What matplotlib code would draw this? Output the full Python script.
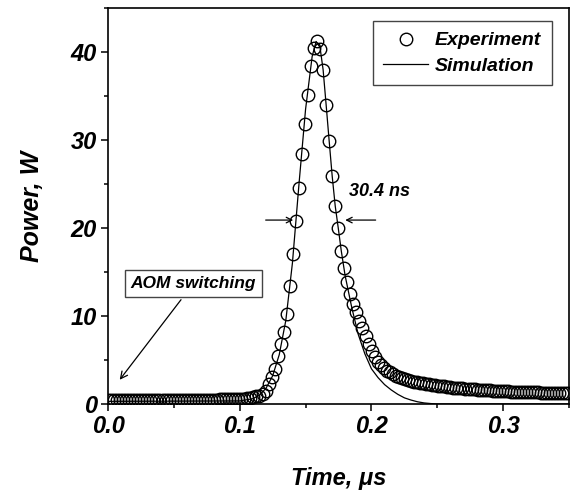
import numpy as np
import matplotlib
matplotlib.use("Agg")
import matplotlib.pyplot as plt
from matplotlib.ticker import MultipleLocator

plt.rcParams['font.family'] = ['Liberation Sans', 'DejaVu Sans']
plt.rcParams['font.weight'] = 'bold'
plt.rcParams['font.style'] = 'italic'

# experiment: sampled every 2.3 ns
dt_exp = 0.0023
p_exp = [0.5, 0.5, 0.5, 0.5, 0.5, 0.5, 0.5, 0.5, 0.5, 0.5,
         0.5, 0.5, 0.5, 0.5, 0.5, 0.5, 0.5, 0.5, 0.5, 0.5,
         0.5, 0.5, 0.5, 0.5, 0.5, 0.5, 0.5, 0.5, 0.5, 0.5,
         0.5, 0.5, 0.5, 0.5, 0.5, 0.5, 0.5, 0.55, 0.55, 0.55,
         0.55, 0.55, 0.6, 0.6, 0.6, 0.6, 0.7, 0.7, 0.8, 0.9,
         0.9, 1.1, 1.5, 2.3, 3.1, 4.0, 5.4, 6.8, 8.2, 10.2,
         13.4, 17.0, 20.8, 24.6, 28.4, 31.8, 35.1, 38.4, 40.4, 41.2,
         40.3, 38.0, 34.0, 29.9, 25.9, 22.5, 20.0, 17.4, 15.4, 13.9,
         12.5, 11.4, 10.4, 9.4, 8.6, 7.7, 6.8, 6.0, 5.3, 4.8,
         4.4, 4.1, 3.8, 3.6, 3.4, 3.2, 3.05, 2.9, 2.8, 2.7,
         2.6, 2.5, 2.45, 2.4, 2.35, 2.3, 2.25, 2.2, 2.15, 2.1,
         2.05, 2.0, 1.95, 1.9, 1.87, 1.84, 1.8, 1.77, 1.74, 1.71,
         1.68, 1.65, 1.62, 1.6, 1.58, 1.56, 1.54, 1.52, 1.5, 1.48,
         1.46, 1.44, 1.42, 1.4, 1.39, 1.38, 1.37, 1.36, 1.35, 1.34,
         1.33, 1.32, 1.31, 1.3, 1.29, 1.28, 1.27, 1.26, 1.25, 1.24,
         1.23, 1.22, 1.21]
t_exp = dt_exp * np.arange(len(p_exp))

t_sim = [0.0, 0.1, 0.11, 0.115, 0.12, 0.125, 0.13, 0.135, 0.14, 0.145,
         0.15, 0.155, 0.158, 0.161, 0.1633, 0.1656, 0.1679, 0.1702, 0.1725, 0.1748,
         0.1771, 0.18, 0.185, 0.19, 0.195, 0.2, 0.205, 0.21, 0.215, 0.22,
         0.225, 0.23, 0.235, 0.24, 0.245, 0.25, 0.35]
p_sim = [0.3, 0.35, 0.6, 1.0, 1.8, 3.2, 5.6, 9.5, 16.0, 25.0,
         33.5, 39.5, 41.2, 40.5, 38.0, 34.0, 29.9, 25.9, 22.5, 20.0,
         17.4, 14.6, 11.0, 7.9, 5.7, 4.0, 3.0, 2.2, 1.6, 1.1,
         0.7, 0.45, 0.25, 0.12, 0.05, 0.0, 0.0]

fig = plt.figure(figsize=(5.72, 4.96), dpi=100)
ax = fig.add_axes([0.1888, 0.1855, 0.806, 0.7984])

ax.plot(t_exp, p_exp, 'o', mfc='none', mec='black', mew=1.0, ms=9,
        label='Experiment', clip_on=True)
ax.plot(t_sim, p_sim, '-', color='black', lw=0.9, label='Simulation')

ax.set_xlim(0, 0.35)
ax.set_ylim(0, 45)
ax.xaxis.set_major_locator(MultipleLocator(0.1))
ax.xaxis.set_minor_locator(MultipleLocator(0.05))
ax.yaxis.set_major_locator(MultipleLocator(10))
ax.yaxis.set_minor_locator(MultipleLocator(5))
ax.set_yticks([0, 10, 20, 30, 40])
ax.xaxis.set_major_formatter(plt.FuncFormatter(lambda v, p: '%.1f' % v))

ax.tick_params(which='major', direction='out', length=5, width=1.1, labelsize=17, pad=3)
ax.tick_params(which='minor', direction='out', length=3, width=1.1)
ax.tick_params(top=False, right=False, which='both')
for s in ax.spines.values():
    s.set_linewidth(1.2)

ax.set_xlabel('Time, \u03bcs', fontsize=17, fontweight='bold', style='italic', labelpad=21)
ax.set_ylabel('Power, W', fontsize=18, fontweight='bold', style='italic', labelpad=19)

leg = ax.legend(loc='upper right', bbox_to_anchor=(0.963, 0.967), borderaxespad=0,
                fancybox=False, framealpha=1, edgecolor='#444444', fontsize=14,
                handlelength=2.3, handletextpad=0.35, labelspacing=0.4, borderpad=0.55)
leg.get_frame().set_linewidth(1.0)

# FWHM arrows
ax.annotate('', xy=(0.1427, 20.9), xytext=(0.1176, 20.9),
            arrowprops=dict(arrowstyle='->', color='black', lw=0.9))
ax.annotate('', xy=(0.178, 20.9), xytext=(0.2053, 20.9),
            arrowprops=dict(arrowstyle='->', color='black', lw=0.9))
ax.text(0.1832, 24.1, '30.4 ns', fontsize=13, fontweight='bold', style='italic',
        ha='left', va='center')

ax.annotate('AOM switching', xy=(0.0076, 2.5), xytext=(0.0649, 13.7),
            fontsize=12.5, fontweight='bold', style='italic', ha='center', va='center',
            bbox=dict(boxstyle='square,pad=0.35', fc='white', ec='#444444', lw=1.0),
            arrowprops=dict(arrowstyle='->', color='black', lw=0.9))

plt.savefig('out.png', dpi=100)
